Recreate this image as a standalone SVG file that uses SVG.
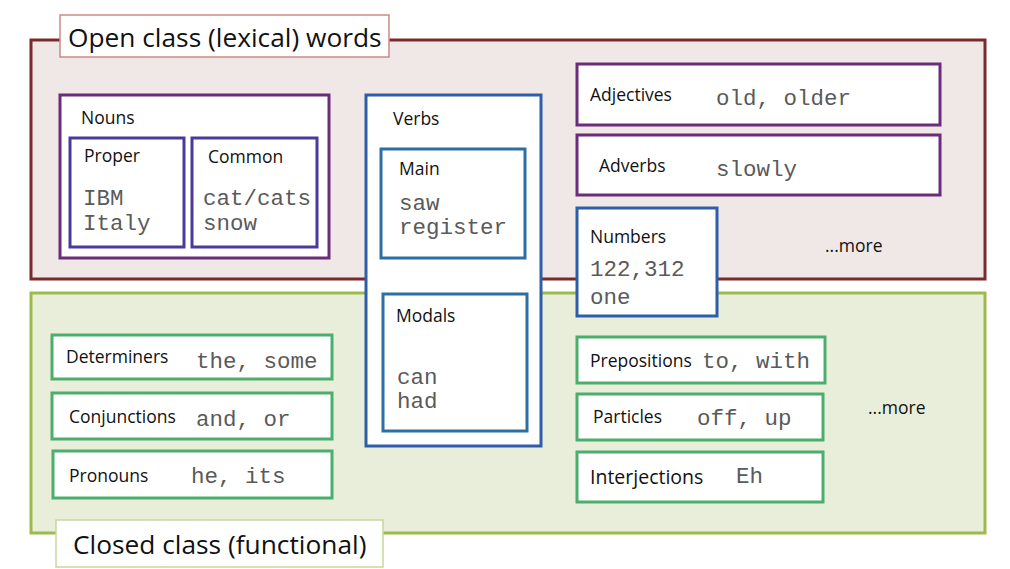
<svg xmlns="http://www.w3.org/2000/svg" width="1010" height="569" viewBox="0 0 1010 569">
<style>
.lbl{font-family:"Open Sans","Noto Sans","Liberation Sans",sans-serif;font-size:17.5px;fill:#111}
.mono{font-family:"Liberation Mono","Courier New",monospace;font-size:22.5px;fill:#5a5a5a}
.big{font-family:"Open Sans","Noto Sans","Liberation Sans",sans-serif;font-size:26.3px;fill:#111}
.box{fill:#fff;stroke-width:3}
.purple{stroke:#6b2d7b}
.indigo{stroke:#4b3a9c}
.blue{stroke:#2f5ea8}
.teal{stroke:#2d6ea3}
.green{stroke:#4cae6c}
</style>
<rect width="1010" height="569" fill="#fff"/>
<g id="open-class">
<rect x="31" y="40" width="954" height="239" fill="#efe8e6" stroke="#7a2a2a" stroke-width="3"/>
<rect x="60" y="15" width="329" height="42" fill="#fff" stroke="#c98a86" stroke-width="1.5"/>
<text class="big" x="68" y="47">Open class (lexical) words</text>
</g>
<g id="closed-class">
<rect x="31" y="293" width="954" height="240" fill="#e8eed9" stroke="#9dbb4c" stroke-width="3"/>
<rect x="56" y="520" width="327" height="47" fill="#fff" stroke="#c6d89a" stroke-width="1.5"/>
<text class="big" x="73" y="554">Closed class (functional)</text>
</g>
<g id="nouns">
<rect class="box purple" x="60" y="95" width="269" height="163"/>
<text class="lbl" x="81" y="124">Nouns</text>
</g>
<g id="proper">
<rect class="box indigo" x="70" y="138" width="114" height="109"/>
<text class="lbl" x="84" y="162">Proper</text>
<text class="mono" x="83" y="205">IBM</text>
<text class="mono" x="83" y="230">Italy</text>
</g>
<g id="common">
<rect class="box indigo" x="192" y="138" width="125" height="109"/>
<text class="lbl" x="208" y="163">Common</text>
<text class="mono" x="203" y="205">cat/cats</text>
<text class="mono" x="203" y="230">snow</text>
</g>
<g id="verbs">
<rect class="box blue" x="366" y="95" width="175" height="351"/>
<text class="lbl" x="393" y="125">Verbs</text>
</g>
<g id="main">
<rect class="box teal" x="381" y="149" width="144" height="109"/>
<text class="lbl" x="399" y="175">Main</text>
<text class="mono" x="399" y="210">saw</text>
<text class="mono" x="399" y="234">register</text>
</g>
<g id="modals">
<rect class="box teal" x="383" y="294" width="144" height="137"/>
<text class="lbl" x="396" y="322">Modals</text>
<text class="mono" x="397" y="384">can</text>
<text class="mono" x="397" y="408">had</text>
</g>
<g id="adjectives">
<rect class="box purple" x="577" y="64" width="363" height="61"/>
<text class="lbl" x="590" y="101">Adjectives</text>
<text class="mono" x="716" y="105">old, older</text>
</g>
<g id="adverbs">
<rect class="box purple" x="577" y="135" width="363" height="60"/>
<text class="lbl" x="599" y="172">Adverbs</text>
<text class="mono" x="716" y="176">slowly</text>
</g>
<g id="numbers">
<rect class="box blue" x="577" y="208" width="140" height="108"/>
<text class="lbl" x="590" y="243">Numbers</text>
<text class="mono" x="590" y="276">122,312</text>
<text class="mono" x="590" y="304">one</text>
</g>
<g id="more-open">
<text class="lbl" x="825" y="252">...more</text>
</g>
<g id="determiners">
<rect class="box green" x="52" y="335" width="280" height="44"/>
<text class="lbl" x="66" y="363">Determiners</text>
<text class="mono" x="196" y="368">the, some</text>
</g>
<g id="conjunctions">
<rect class="box green" x="52" y="393" width="280" height="46"/>
<text class="lbl" x="69" y="423">Conjunctions</text>
<text class="mono" x="196" y="426">and, or</text>
</g>
<g id="pronouns">
<rect class="box green" x="53" y="451" width="279" height="47"/>
<text class="lbl" x="69" y="482">Pronouns</text>
<text class="mono" x="191" y="483">he, its</text>
</g>
<g id="prepositions">
<rect class="box green" x="577" y="337" width="248" height="46"/>
<text class="lbl" x="590" y="367">Prepositions</text>
<text class="mono" x="702" y="368">to, with</text>
</g>
<g id="particles">
<rect class="box green" x="577" y="394" width="246" height="46"/>
<text class="lbl" x="593" y="423">Particles</text>
<text class="mono" x="697" y="425">off, up</text>
</g>
<g id="interjections">
<rect class="box green" x="577" y="452" width="246" height="50"/>
<text class="lbl" x="590" y="484" style="font-size:19.5px">Interjections</text>
<text class="mono" x="736" y="483">Eh</text>
</g>
<g id="more-closed">
<text class="lbl" x="868" y="414">...more</text>
</g>
<g id="connectors"></g>
</svg>
